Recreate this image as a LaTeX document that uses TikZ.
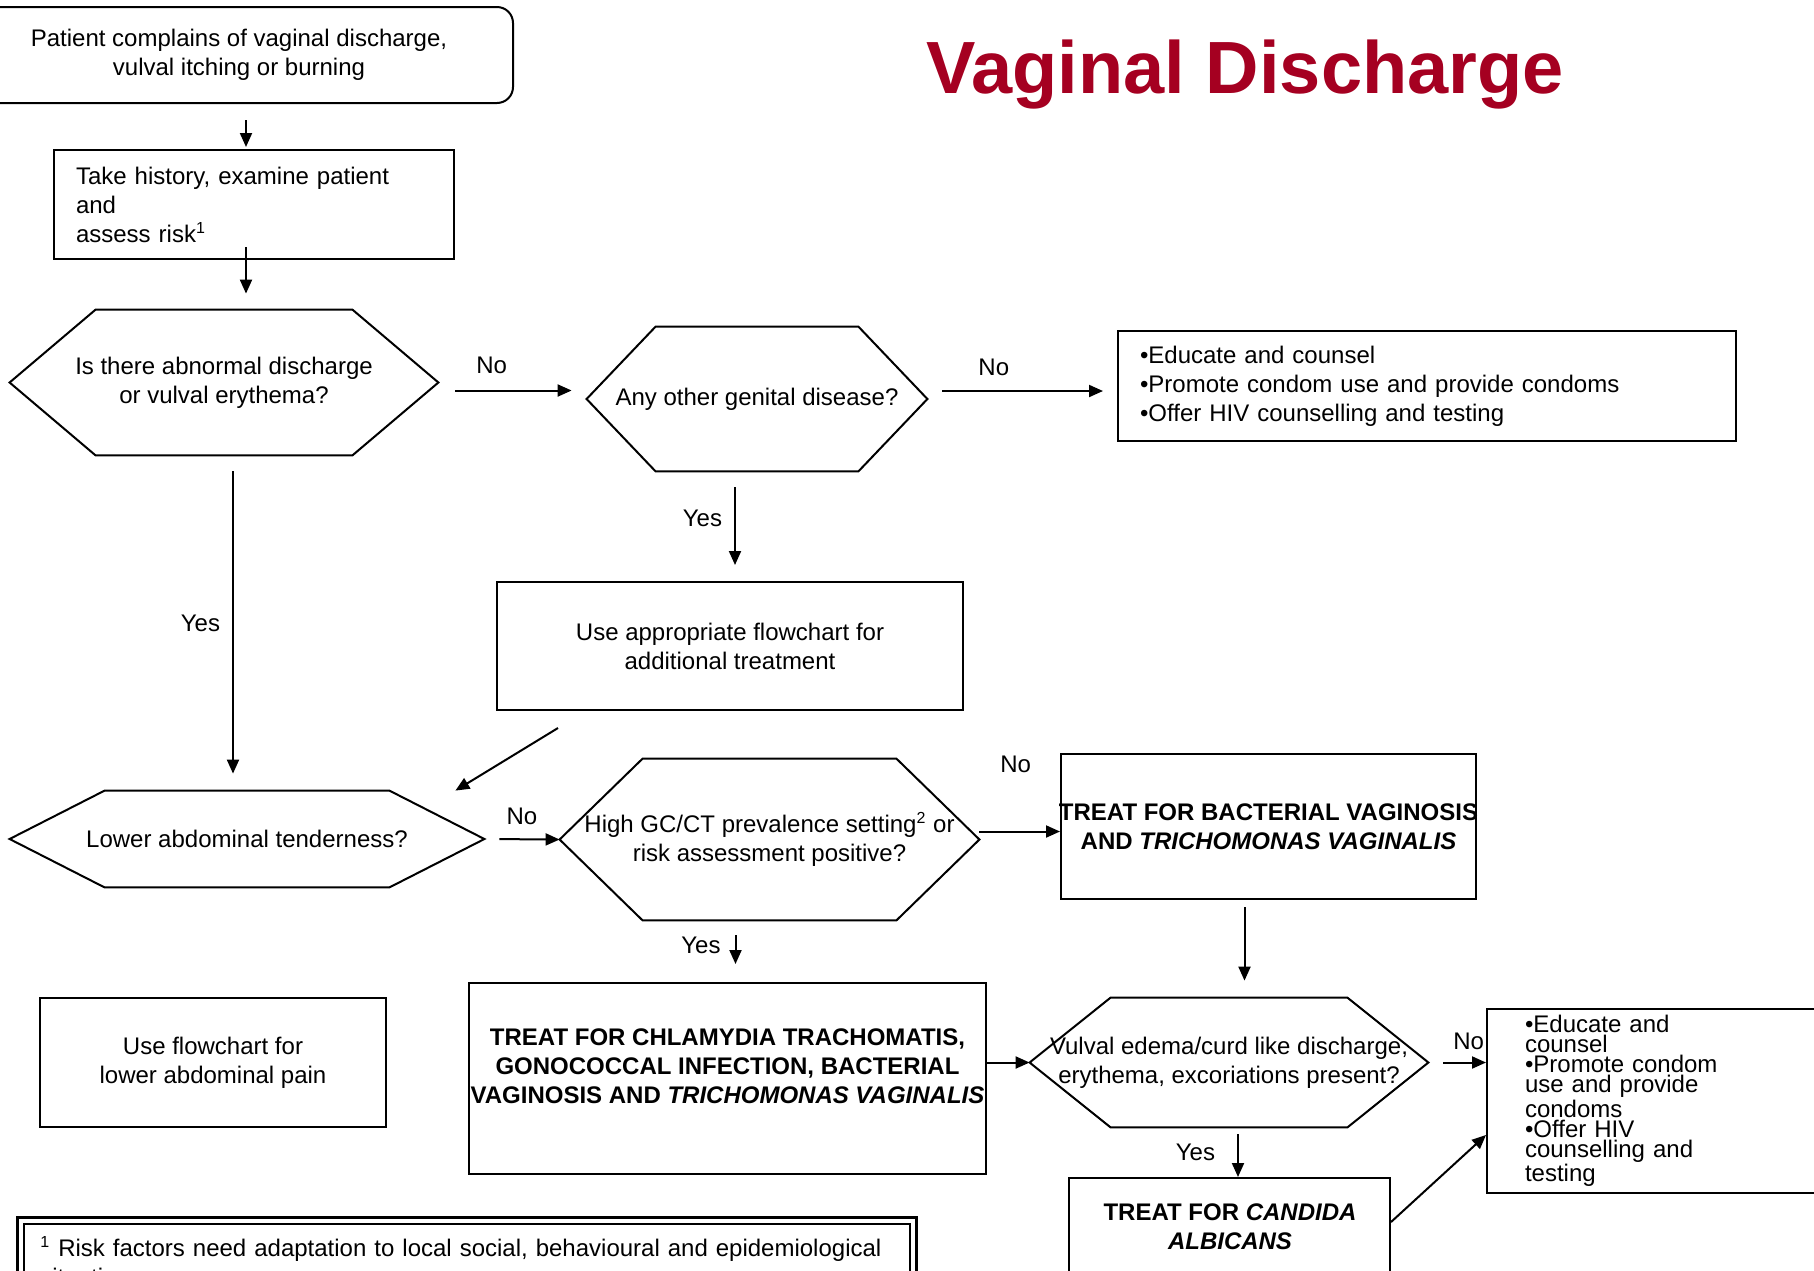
\documentclass[tikz,border=0pt]{standalone}
\usepackage{fontspec}
\setmainfont{Liberation Sans}
\usetikzlibrary{arrows.meta}

\definecolor{titlered}{RGB}{165,0,33}

% outline of a question node (flat hexagon)
\newcommand{\hexout}[2]{\draw[line width=1pt] (#1.west) -- ([xshift=#2]#1.north west) -- ([xshift=-#2]#1.north east) -- (#1.east) -- ([xshift=-#2]#1.south east) -- ([xshift=#2]#1.south west) -- cycle;}

\begin{document}
\begin{tikzpicture}[x=0.5pt,y=-0.5pt,
    box/.style={draw,line width=1pt,inner sep=0pt,align=center,font=\fontsize{12}{14.5}\selectfont},
    hexq/.style={inner sep=0pt,align=center,font=\fontsize{12}{14.5}\selectfont},
    treat/.style={inner sep=0pt,align=center,font=\bfseries\fontsize{12}{14.5}\selectfont},
    lbl/.style={inner sep=2pt,font=\fontsize{12}{14.5}\selectfont},
    arr/.style={line width=1pt,-{Triangle[length=7pt,width=6pt]}}]

    \useasboundingbox (0,0) rectangle (1814,1270);
    \clip (0,0) rectangle (1814,1270);
    \fill[white] (0,0) rectangle (1814,1270);

    % Title
    \node[anchor=base,text=titlered,font=\bfseries\fontsize{37}{40}\selectfont] (title) at (1245,93) {Vaginal Discharge};

    % Top of the chart
    \node[box,rounded corners=8pt,minimum width=274pt,minimum height=48pt] (start) at (239,55) {Patient complains of vaginal discharge,\\vulval itching or burning};
    \node[box,minimum width=200pt,minimum height=54.5pt,text width=178pt,inner xsep=11pt,align=left] (hist) at (254,204.5) {Take history, examine patient\\and\\assess risk\textsuperscript{1}};

    % Questions
    \node[hexq,minimum width=214pt,minimum height=72.5pt] (h1) at (224,382.5) {Is there abnormal discharge\\or vulval erythema?};
    \hexout{h1}{43pt}
    \node[hexq,minimum width=170pt,minimum height=72pt] (h2) at (757,399) {Any other genital disease?};
    \hexout{h2}{34.5pt}
    \node[hexq,minimum width=237pt,minimum height=48pt] (h3) at (247,839) {Lower abdominal tenderness?};
    \hexout{h3}{47.5pt}
    \node[hexq,minimum width=209.5pt,minimum height=80.5pt] (h4) at (769.5,839.5) {High GC/CT prevalence setting\textsuperscript{2} or\\risk assessment positive?};
    \hexout{h4}{41.5pt}
    \node[hexq,minimum width=199pt,minimum height=64.5pt] (h5) at (1229,1062.5) {Vulval edema/curd like discharge,\\erythema, excoriations present?};
    \hexout{h5}{40.5pt}

    % Boxes
    \node[box,minimum width=309pt,minimum height=55pt,text width=287pt,inner xsep=11pt,align=left] (edu1) at (1427,386) {•Educate and counsel\\•Promote condom use and provide condoms\\•Offer HIV counselling and testing};
    \node[box,minimum width=233pt,minimum height=64pt] (use1) at (730,646) {Use appropriate flowchart for\\additional treatment};
    \node[box,minimum width=173pt,minimum height=64.5pt] (use2) at (213,1062.5) {Use flowchart for\\lower abdominal pain};
    \node[box,treat,draw,line width=1pt,minimum width=207.5pt,minimum height=72.5pt,inner xsep=-3pt] (bv) at (1268.5,826.5) {TREAT FOR BACTERIAL VAGINOSIS\\AND \textit{TRICHOMONAS VAGINALIS}};
    \node[box,minimum width=258.5pt,minimum height=95.5pt] (ct) at (727.5,1078.5) {};
    \node[treat] (cttext) at (727.5,1066) {TREAT FOR CHLAMYDIA TRACHOMATIS,\\GONOCOCCAL INFECTION, BACTERIAL\\VAGINOSIS AND \textit{TRICHOMONAS VAGINALIS}};
    \node[box,minimum width=160.5pt,minimum height=76pt] (cand) at (1229.5,1254) {};
    \node[treat] (candtext) at (1230,1227) {TREAT FOR \textit{CANDIDA}\\\textit{ALBICANS}};
    \node[box,minimum width=181.5pt,minimum height=92pt,text width=143.5pt,inner xsep=19pt,align=left,font=\fontsize{12}{10}\selectfont] (edu2) at (1668.5,1101) {•Educate and\\counsel\\•Promote condom\\use and provide\\condoms\\•Offer HIV\\counselling and\\testing};

    % Footnote
    \node[draw,line width=0.8pt,anchor=north west,inner sep=0pt,minimum width=443pt,minimum height=45pt] (foot) at (23,1223) {};
    \draw[line width=1.5pt] ([xshift=-3pt,yshift=3pt]foot.north west) rectangle ([xshift=3pt,yshift=-3pt]foot.south east);
    \node[anchor=north west,inner sep=0pt,text width=430pt,align=left,font=\fontsize{12}{14.5}\selectfont] (foottext) at (40,1236) {\textsuperscript{1} Risk factors need adaptation to local social, behavioural and epidemiological situations};

    % Arrows
    \draw[arr,shorten <=8pt,shorten >=1pt] ([xshift=3.5pt]start.south) -- ([xshift=3.5pt]start.south |- hist.north);
    \draw[arr,shorten >=8pt] ([xshift=-4pt,yshift=6.5pt]hist.south) -- ([xshift=-4pt]hist.south |- h1.north);
    \draw[arr,shorten <=8.5pt,shorten >=7.5pt] ([yshift=-4pt]h1.east) -- node[lbl,pos=0.36,above=6pt] {No} ([yshift=-4pt]h1.east -| h2.west);
    \draw[arr,shorten <=7.5pt,shorten >=7pt] ([yshift=4pt]h2.east) -- node[lbl,pos=0.35,above=5pt] {No} ([yshift=4pt]h2.east -| edu1.west);
    \draw[arr,shorten <=8pt,shorten >=8pt] ([xshift=-11pt]h2.south) -- node[lbl,pos=0.43,left=4pt] {Yes} ([xshift=-11pt]h2.south |- use1.north);
    \draw[arr] ([xshift=-86pt,yshift=-8.5pt]use1.south) -- ([xshift=-14.5pt]h3.north east);
    \draw[arr,shorten <=8pt,shorten >=8.5pt] ([xshift=4.5pt]h1.south) -- node[lbl,left=4pt] {Yes} ([xshift=4.5pt]h1.south |- h3.north);
    \draw[arr,shorten <=7.5pt] (h3.east) -- node[lbl,above=5pt] {No} (h4.west);
    \draw[arr] ([yshift=4pt]h4.east) -- node[lbl,pos=0.45,above=27pt] {No} ([yshift=4pt]h4.east -| bv.west);
    \draw[arr,shorten <=7.5pt,shorten >=9pt] ([xshift=-17pt]h4.south) -- node[lbl,pos=0.4,left=5pt] {Yes} ([xshift=-17pt]h4.south |- ct.north);
    \draw[arr] (h5.west -| ct.east) -- (h5.west);
    \draw[arr,shorten <=3.5pt,shorten >=8.5pt] ([xshift=-12pt]bv.south) -- ([xshift=-12pt]bv.south |- h5.north);
    \draw[arr,shorten <=7.5pt] (h5.east) -- node[lbl,pos=0.7,above=4pt] {No} (h5.east -| edu2.west);
    \draw[arr,shorten <=3.5pt] ([xshift=4.5pt]h5.south) -- node[lbl,left=9pt] {Yes} ([xshift=4.5pt]h5.south |- cand.north);
    \draw[arr] ([yshift=-22.5pt]cand.north east) -- ([yshift=-17pt]edu2.west);

\end{tikzpicture}
\end{document}
